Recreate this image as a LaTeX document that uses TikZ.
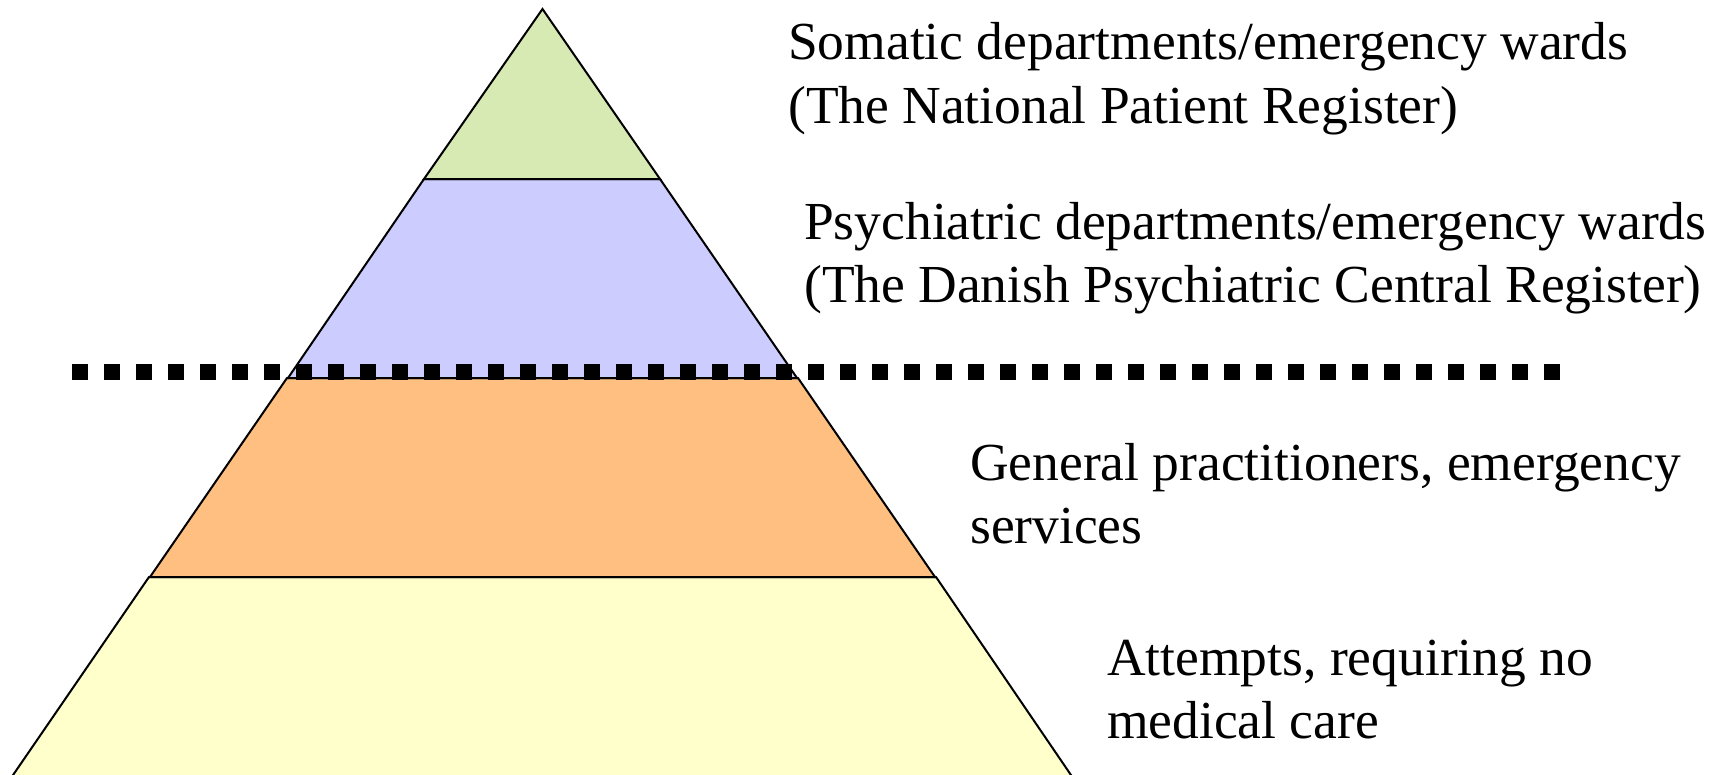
\documentclass[tikz,border=0pt]{standalone}
\usepackage{fontspec}
\setmainfont{Liberation Serif}
\definecolor{bandgreen}{RGB}{216,234,180}
\definecolor{bandpurple}{RGB}{204,204,255}
\definecolor{bandorange}{RGB}{255,191,128}
\definecolor{bandyellow}{RGB}{255,255,204}
\tikzset{
  band/.style={draw=black, line width=2bp, line join=miter},
  lbl/.style={anchor=base west, inner sep=0pt, align=left,
    font=\fontsize{53.5bp}{63bp}\selectfont},
  cutline/.style={line width=16bp, dash pattern=on 16bp off 16bp, line cap=butt}
}
\begin{document}
\begin{tikzpicture}[x=1bp,y=-1bp]
\useasboundingbox (0,0) rectangle (1715,775);
% pyramid bands (bottom to top)
\path[band, fill=bandyellow] (149,577) -- (936,577) -- (1073,778) -- (11,778) -- cycle;
\path[band, fill=bandorange] (287,378) -- (798,378) -- (935,577) -- (150,577) -- cycle;
\path[band, fill=bandpurple] (424,179) -- (660,179) -- (797,378) -- (288,378) -- cycle;
\path[band, fill=bandgreen] (542.5,9) -- (660,179) -- (424,179) -- cycle;
% dotted divider
\coordinate (cutL) at (72,372);
\coordinate (cutR) at (1561,372);
\draw[cutline] (cutL) -- (cutR);
% labels (anchor = baseline of last line)
\node[lbl] (somatic) at (788,123) {Somatic departments/emergency wards\\(The National Patient Register)};
\node[lbl] (psych) at (804,302) {Psychiatric departments/emergency wards\\(The Danish Psychiatric Central Register)};
\node[lbl] (gp) at (970,543) {General practitioners, emergency\\services};
\node[lbl] (attempts) at (1107,738) {Attempts, requiring no\\medical care};
\end{tikzpicture}
\end{document}
